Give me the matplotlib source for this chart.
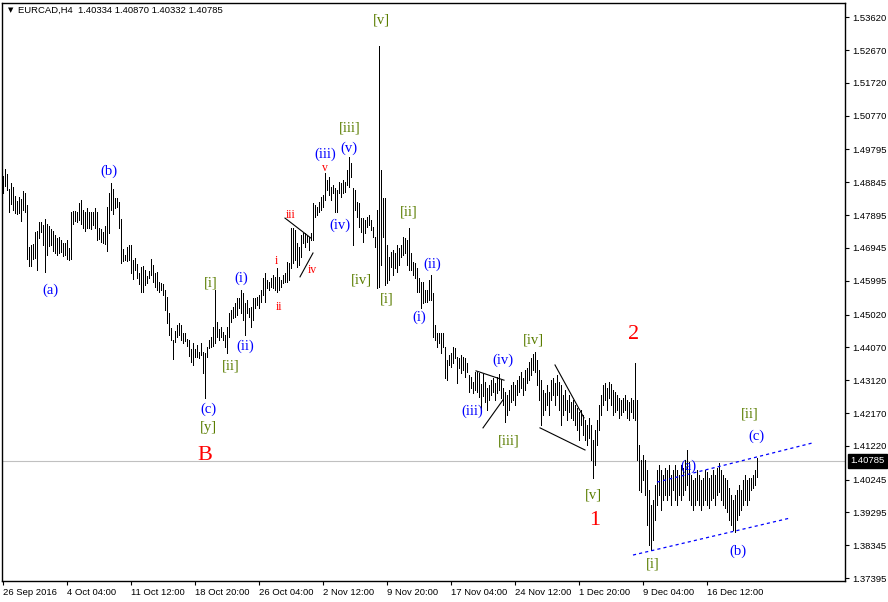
import matplotlib
matplotlib.use('Agg')
import matplotlib.pyplot as plt
import matplotlib.transforms as mtransforms

# EURCAD H4 - barras high/low
symbol_info = 'EURCAD,H4  1.40334 1.40870 1.40332 1.40785'
last_price = 1.40785

highs = [
    1.4903, 1.4923, 1.4909, 1.4865, 1.4883, 1.4871, 1.4845, 1.4830, 1.4842, 1.4836,
    1.4859, 1.4854, 1.4819, 1.4697, 1.4703, 1.4706, 1.4741, 1.4744, 1.4770, 1.4770,
    1.4761, 1.4779, 1.4764, 1.4758, 1.4749, 1.4744, 1.4732, 1.4723, 1.4726, 1.4718,
    1.4709, 1.4709, 1.4718, 1.4694, 1.4799, 1.4802, 1.4802, 1.4799, 1.4825, 1.4833,
    1.4804, 1.4799, 1.4810, 1.4799, 1.4799, 1.4799, 1.4810, 1.4799, 1.4752, 1.4749,
    1.4741, 1.4758, 1.4813, 1.4854, 1.4883, 1.4865, 1.4839, 1.4839, 1.4828, 1.4779,
    1.4692, 1.4674, 1.4697, 1.4703, 1.4703, 1.4660, 1.4665, 1.4648, 1.4622, 1.4639,
    1.4642, 1.4631, 1.4613, 1.4628, 1.4663, 1.4645, 1.4622, 1.4625, 1.4596, 1.4593,
    1.4590, 1.4573, 1.4553, 1.4507, 1.4463, 1.4428, 1.4454, 1.4472, 1.4477, 1.4472,
    1.4448, 1.4448, 1.4431, 1.4428, 1.4402, 1.4419, 1.4402, 1.4414, 1.4393, 1.4419,
    1.4393, 1.4391, 1.4408, 1.4428, 1.4437, 1.4466, 1.4573, 1.4480, 1.4460, 1.4466,
    1.4451, 1.4443, 1.4466, 1.4507, 1.4515, 1.4524, 1.4535, 1.4550, 1.4550, 1.4573,
    1.4564, 1.4535, 1.4544, 1.4521, 1.4524, 1.4550, 1.4550, 1.4553, 1.4559, 1.4573,
    1.4608, 1.4622, 1.4602, 1.4596, 1.4608, 1.4616, 1.4610, 1.4636, 1.4610, 1.4602,
    1.4616, 1.4622, 1.4654, 1.4651, 1.4752, 1.4752, 1.4747, 1.4709, 1.4697, 1.4732,
    1.4738, 1.4738, 1.4732, 1.4726, 1.4738, 1.4825, 1.4819, 1.4813, 1.4828, 1.4842,
    1.4848, 1.4911, 1.4891, 1.4900, 1.4871, 1.4877, 1.4868, 1.4862, 1.4885, 1.4883,
    1.4891, 1.4885, 1.4920, 1.4958, 1.4940, 1.4868, 1.4862, 1.4828, 1.4825, 1.4781,
    1.4781, 1.4776, 1.4784, 1.4790, 1.4776, 1.4755, 1.4726, 1.4804, 1.5278, 1.4920,
    1.4839, 1.4839, 1.4703, 1.4668, 1.4683, 1.4689, 1.4680, 1.4703, 1.4694, 1.4703,
    1.4726, 1.4723, 1.4718, 1.4752, 1.4680, 1.4654, 1.4651, 1.4636, 1.4608, 1.4596,
    1.4596, 1.4573, 1.4573, 1.4602, 1.4616, 1.4564, 1.4472, 1.4448, 1.4448, 1.4448,
    1.4448, 1.4408, 1.4370, 1.4385, 1.4391, 1.4408, 1.4405, 1.4379, 1.4376, 1.4385,
    1.4379, 1.4376, 1.4362, 1.4327, 1.4321, 1.4307, 1.4336, 1.4336, 1.4333, 1.4301,
    1.4330, 1.4307, 1.4289, 1.4298, 1.4312, 1.4318, 1.4304, 1.4321, 1.4330, 1.4312,
    1.4289, 1.4278, 1.4269, 1.4284, 1.4298, 1.4307, 1.4298, 1.4312, 1.4324, 1.4336,
    1.4318, 1.4341, 1.4347, 1.4365, 1.4376, 1.4388, 1.4393, 1.4370, 1.4341, 1.4312,
    1.4284, 1.4275, 1.4298, 1.4278, 1.4312, 1.4318, 1.4304, 1.4327, 1.4307, 1.4298,
    1.4269, 1.4284, 1.4255, 1.4269, 1.4249, 1.4255, 1.4240, 1.4232, 1.4220, 1.4226,
    1.4211, 1.4197, 1.4182, 1.4203, 1.4182, 1.4139, 1.4168, 1.4197, 1.4240, 1.4269,
    1.4298, 1.4304, 1.4289, 1.4307, 1.4301, 1.4284, 1.4278, 1.4269, 1.4260, 1.4255,
    1.4260, 1.4269, 1.4255, 1.4249, 1.4260, 1.4255, 1.4362, 1.4255, 1.4124, 1.4081,
    1.4095, 1.4081, 1.4052, 1.3994, 1.3951, 1.3965, 1.4009, 1.4052, 1.4066, 1.4052,
    1.4037, 1.4058, 1.4052, 1.4066, 1.4037, 1.4052, 1.4066, 1.4052, 1.4037, 1.4066,
    1.4058, 1.4081, 1.4110, 1.4075, 1.4037, 1.4023, 1.4029, 1.4052, 1.4037, 1.4023,
    1.4029, 1.4052, 1.4046, 1.4029, 1.4037, 1.4052, 1.4037, 1.4058, 1.4072, 1.4052,
    1.4037, 1.4029, 1.4023, 1.4000, 1.3980, 1.3965, 1.3980, 1.3994, 1.4009, 1.3994,
    1.4023, 1.4037, 1.4023, 1.4029, 1.4029, 1.4037, 1.4052, 1.4087,
]

lows = [
    1.4854, 1.4874, 1.4862, 1.4799, 1.4822, 1.4804, 1.4796, 1.4793, 1.4796, 1.4773,
    1.4804, 1.4799, 1.4663, 1.4642, 1.4642, 1.4663, 1.4665, 1.4631, 1.4723, 1.4741,
    1.4703, 1.4625, 1.4674, 1.4700, 1.4703, 1.4686, 1.4680, 1.4674, 1.4680, 1.4683,
    1.4671, 1.4674, 1.4663, 1.4660, 1.4663, 1.4764, 1.4773, 1.4770, 1.4776, 1.4764,
    1.4752, 1.4744, 1.4752, 1.4752, 1.4749, 1.4761, 1.4752, 1.4718, 1.4721, 1.4712,
    1.4709, 1.4706, 1.4686, 1.4738, 1.4804, 1.4793, 1.4810, 1.4813, 1.4752, 1.4651,
    1.4657, 1.4660, 1.4657, 1.4660, 1.4622, 1.4605, 1.4631, 1.4608, 1.4590, 1.4567,
    1.4567, 1.4587, 1.4593, 1.4608, 1.4616, 1.4596, 1.4582, 1.4573, 1.4567, 1.4573,
    1.4558, 1.4515, 1.4477, 1.4443, 1.4428, 1.4373, 1.4422, 1.4437, 1.4443, 1.4428,
    1.4419, 1.4425, 1.4411, 1.4382, 1.4365, 1.4356, 1.4379, 1.4379, 1.4376, 1.4385,
    1.4333, 1.4260, 1.4379, 1.4405, 1.4408, 1.4411, 1.4419, 1.4437, 1.4428, 1.4437,
    1.4428, 1.4408, 1.4391, 1.4437, 1.4480, 1.4492, 1.4495, 1.4501, 1.4521, 1.4507,
    1.4486, 1.4443, 1.4507, 1.4495, 1.4466, 1.4486, 1.4521, 1.4530, 1.4521, 1.4538,
    1.4559, 1.4538, 1.4579, 1.4573, 1.4582, 1.4579, 1.4573, 1.4567, 1.4573, 1.4582,
    1.4593, 1.4596, 1.4596, 1.4602, 1.4636, 1.4651, 1.4660, 1.4639, 1.4645, 1.4668,
    1.4709, 1.4697, 1.4712, 1.4689, 1.4718, 1.4718, 1.4784, 1.4790, 1.4799, 1.4804,
    1.4813, 1.4833, 1.4862, 1.4848, 1.4833, 1.4854, 1.4799, 1.4799, 1.4854, 1.4842,
    1.4854, 1.4856, 1.4877, 1.4871, 1.4900, 1.4703, 1.4804, 1.4784, 1.4755, 1.4741,
    1.4712, 1.4738, 1.4755, 1.4761, 1.4747, 1.4726, 1.4697, 1.4579, 1.4582, 1.4645,
    1.4726, 1.4587, 1.4593, 1.4602, 1.4639, 1.4616, 1.4636, 1.4625, 1.4645, 1.4668,
    1.4674, 1.4680, 1.4645, 1.4631, 1.4631, 1.4616, 1.4608, 1.4567, 1.4567, 1.4521,
    1.4535, 1.4538, 1.4538, 1.4544, 1.4544, 1.4437, 1.4428, 1.4408, 1.4419, 1.4391,
    1.4408, 1.4318, 1.4312, 1.4356, 1.4350, 1.4362, 1.4376, 1.4304, 1.4347, 1.4333,
    1.4341, 1.4321, 1.4335, 1.4278, 1.4289, 1.4275, 1.4284, 1.4278, 1.4263, 1.4226,
    1.4266, 1.4249, 1.4226, 1.4255, 1.4269, 1.4278, 1.4255, 1.4275, 1.4284, 1.4260,
    1.4240, 1.4191, 1.4211, 1.4226, 1.4249, 1.4255, 1.4240, 1.4269, 1.4278, 1.4289,
    1.4269, 1.4284, 1.4304, 1.4312, 1.4327, 1.4341, 1.4336, 1.4298, 1.4255, 1.4182,
    1.4211, 1.4226, 1.4240, 1.4211, 1.4255, 1.4269, 1.4240, 1.4269, 1.4226, 1.4182,
    1.4211, 1.4226, 1.4197, 1.4220, 1.4203, 1.4197, 1.4182, 1.4168, 1.4139, 1.4182,
    1.4153, 1.4139, 1.4124, 1.4145, 1.4081, 1.4029, 1.4066, 1.4124, 1.4168, 1.4211,
    1.4240, 1.4255, 1.4226, 1.4260, 1.4240, 1.4211, 1.4220, 1.4226, 1.4203, 1.4211,
    1.4220, 1.4226, 1.4203, 1.4197, 1.4220, 1.4203, 1.4197, 1.4081, 1.3994, 1.3988,
    1.4023, 1.3980, 1.3893, 1.3835, 1.3821, 1.3850, 1.3907, 1.3951, 1.3980, 1.3936,
    1.3965, 1.3980, 1.3965, 1.3980, 1.3951, 1.3994, 1.3965, 1.3951, 1.3980, 1.3965,
    1.3980, 1.3994, 1.4009, 1.3965, 1.3951, 1.3936, 1.3951, 1.3965, 1.3951, 1.3936,
    1.3951, 1.3965, 1.3951, 1.3942, 1.3965, 1.3971, 1.3951, 1.3980, 1.3988, 1.3965,
    1.3951, 1.3942, 1.3930, 1.3907, 1.3893, 1.3878, 1.3873, 1.3907, 1.3922, 1.3936,
    1.3951, 1.3965, 1.3951, 1.3965, 1.3994, 1.4000, 1.4009, 1.4033,
]

# etiquetas de fecha (cada 32 barras)
date_ticks = [0, 32, 64, 96, 128, 160, 192, 224, 256, 288, 320, 352]
date_labels = ['26 Sep 2016', '4 Oct 04:00', '11 Oct 12:00', '18 Oct 20:00',
               '26 Oct 04:00', '2 Nov 12:00', '9 Nov 20:00', '17 Nov 04:00',
               '24 Nov 12:00', '1 Dec 20:00', '9 Dec 04:00', '16 Dec 12:00']

price_ticks = [1.53620, 1.52670, 1.51720, 1.50770, 1.49795, 1.48845, 1.47895,
               1.46945, 1.45995, 1.45020, 1.44070, 1.43120, 1.42170, 1.41220,
               1.40245, 1.39295, 1.38345, 1.37395]

# etiquetas de ondas: (texto, barra, precio)
blue_labels = [('(a)', 23.5, 1.4573), ('(b)', 53, 1.4917), ('(c)', 102.5, 1.4229),
               ('(i)', 119, 1.4608), ('(ii)', 121, 1.4411), ('(iii)', 161, 1.4967),
               ('(v)', 173, 1.4984), ('(iv)', 168.5, 1.4761), ('(i)', 208, 1.4495),
               ('(ii)', 214.5, 1.4648), ('(iii)', 234.5, 1.4223), ('(iv)', 250, 1.4370),
               ('(a)', 342.5, 1.4064), ('(b)', 367.5, 1.3818), ('(c)', 376.5, 1.4150)]
olive_labels = [('[y]', 102.5, 1.4174), ('[i]', 104, 1.4593), ('[ii]', 114, 1.4353),
                ('[iii]', 173.5, 1.5042), ('[v]', 189, 1.5354), ('[iv]', 179, 1.4602),
                ('[i]', 192, 1.4547), ('[ii]', 203, 1.4799), ('[iii]', 253, 1.4136),
                ('[iv]', 265, 1.4428), ('[v]', 295, 1.3980), ('[i]', 325, 1.3780),
                ('[ii]', 373.5, 1.4214)]
red_small = [('i', 136.5, 1.4657), ('ii', 138, 1.4524), ('iii', 144, 1.4790),
             ('iv', 154.5, 1.4631), ('v', 161, 1.4926)]
red_big = [('B', 101, 1.4093), ('2', 315.5, 1.4443), ('1', 296, 1.3907)]

# lineas de tendencia: (barra0, precio0, barra1, precio1)
black_lines = [(141, 1.4781, 154, 1.4723), (148.5, 1.4611, 155, 1.4680),
               (236.5, 1.4339, 250.5, 1.4312), (240, 1.4174, 250, 1.4255),
               (276, 1.4356, 290.5, 1.4203), (268.5, 1.4174, 291, 1.4110)]
channel_lines = [(327, 1.4017, 404.5, 1.4130), (315, 1.3806, 393.5, 1.3913)]

plt.rcParams['font.family'] = ['Liberation Sans', 'DejaVu Sans']

fig = plt.figure(figsize=(8.88, 6.02), dpi=100)
ax = fig.add_axes([2 / 888, 1 - 581 / 602, 843 / 888, 578 / 602])

x = range(len(highs))
ax.vlines(x, lows, highs, colors='black', linewidth=0.72, antialiased=False)

ax.axhline(last_price, color='#C0C0C0', linewidth=0.8, zorder=0)

for b0, p0, b1, p1 in black_lines:
    ax.plot([b0, b1], [p0, p1], color='black', linewidth=0.8)
for b0, p0, b1, p1 in channel_lines:
    ax.plot([b0, b1], [p0, p1], color='#0000FF', linewidth=0.9, linestyle=(0, (2.5, 2.5)))

serif = 'Liberation Serif'
for t, b, p in blue_labels:
    ax.text(b, p, t, color='#0000FF', fontsize=10.5, family=serif, ha='center', va='center')
for t, b, p in olive_labels:
    ax.text(b, p, t, color='#5A7D00', fontsize=10.5, family=serif, ha='center', va='center')
for t, b, p in red_small:
    ax.text(b, p, t, color='#FF0000', fontsize=8.5, family=serif, ha='center', va='center')
for t, b, p in red_big:
    ax.text(b, p, t, color='#FF0000', fontsize=16, family=serif, ha='center', va='center')

ax.set_xlim(-0.5, 421)
ax.set_ylim(1.37309, 1.54034)

ax.yaxis.tick_right()
ax.set_yticks(price_ticks)
ax.set_yticklabels([f'{p:.5f}' for p in price_ticks])
ax.set_xticks(date_ticks)
ax.set_xticklabels(date_labels, ha='left')
ax.tick_params(axis='y', direction='out', length=3, width=0.8, pad=2, labelsize=6.8)
ax.tick_params(axis='x', direction='out', length=3, width=0.8, pad=2, labelsize=6.8)
for s in ax.spines.values():
    s.set_linewidth(1)
    s.set_color('black')

# precio actual en caja negra
trans = mtransforms.blended_transform_factory(ax.transAxes, ax.transData)
ax.text(1.006, last_price, '1.40785', transform=trans, ha='left', va='center',
        color='white', fontsize=6.8,
        bbox=dict(boxstyle='square,pad=0.25', fc='black', ec='black'))

fig.text(8 / 888, 1 - 10 / 602, '\u25BC', fontsize=5, va='center', family='DejaVu Sans')
fig.text(18 / 888, 1 - 10 / 602, symbol_info, fontsize=6.8, va='center')

fig.savefig('out.png', dpi=100)
